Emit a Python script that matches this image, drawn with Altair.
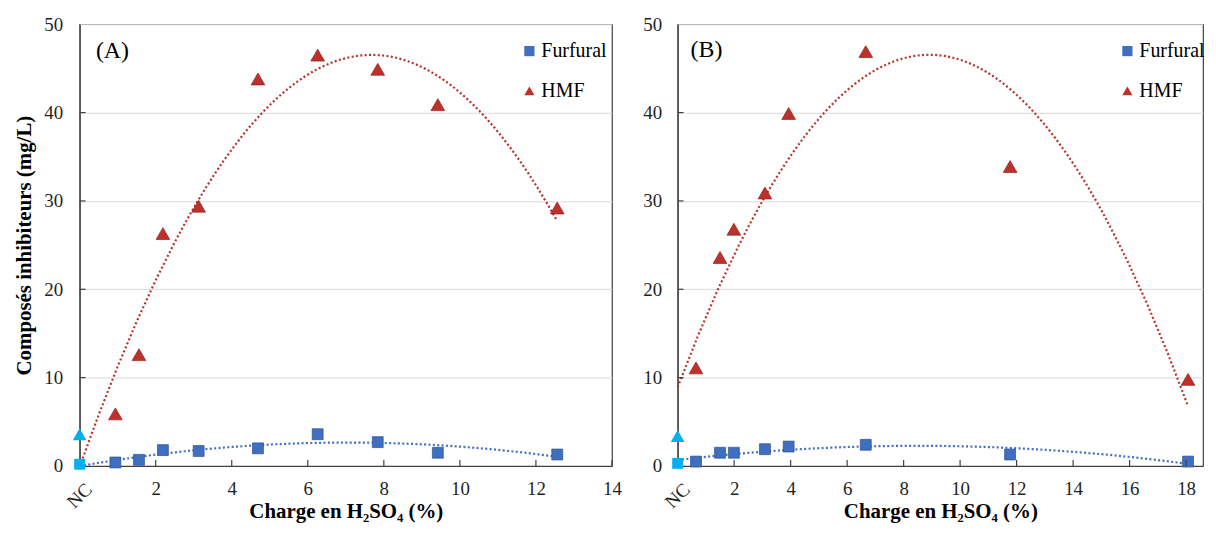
import altair as alt
import pandas as pd

# ---------------- data ----------------
series_names = ["Furfural", "HMF"]
series_colors = ["#3F6FC0", "#C0302A"]
series_strokes = ["#2a4f8f", "#8f201c"]
series_shapes = ["square", "triangle-up"]
series_sizes = [120, 190]
trend_colors = ["#3F6FC0", "#B8312C"]
nc_color = "#00B0F0"

# Panel (A)
a_x = [0, 0.94, 1.56, 2.19, 3.13, 4.69, 6.26, 7.84, 9.42, 12.56]
a_furfural = [0.2, 0.4, 0.7, 1.8, 1.7, 2.0, 3.6, 2.7, 1.5, 1.3]
a_hmf = [3.6, 5.9, 12.6, 26.3, 29.4, 43.8, 46.5, 44.9, 40.9, 29.2]
a_xticks = [2, 4, 6, 8, 10, 12, 14]

# Panel (B)
b_x = [0, 0.65, 1.50, 1.99, 3.09, 3.93, 6.66, 11.77, 18.07]
b_furfural = [0.3, 0.5, 1.5, 1.5, 1.9, 2.2, 2.4, 1.3, 0.5]
b_hmf = [3.4, 11.1, 23.6, 26.8, 30.9, 39.9, 46.9, 33.9, 9.8]
b_xticks = [2, 4, 6, 8, 10, 12, 14, 16, 18]

y_ticks = [0, 10, 20, 30, 40, 50]
nc_label = "NC"
x_title = "Charge en H₂SO₄ (%)"
y_title = "Composés inhibiteurs (mg/L)"

SERIF = "Liberation Serif"
H = 444


def panel(xs, furf, hmf, x_max, width, xticks, tag, tag_x, tag_y, show_ytitle, y_lab_pad):
    n = len(xs)
    df = pd.DataFrame({
        "x": list(xs) * 2,
        "y": list(furf) + list(hmf),
        "series": [series_names[0]] * n + [series_names[1]] * n,
    })
    base = alt.Chart(df)
    xscale = alt.Scale(domain=[0, x_max], nice=False, zero=False)
    yscale = alt.Scale(domain=[0, 50], nice=False)
    x_axis = alt.Axis(values=xticks, grid=False, ticks=False, tickSize=0,
                      labelFlush=False, labelPadding=14, labelFontSize=19,
                      labelFont=SERIF, labelColor="#1f1f1f",
                      title=x_title, titleFont=SERIF, titleFontSize=21,
                      titleFontWeight="bold", titleColor="#000000", titlePadding=2)
    y_axis = alt.Axis(values=y_ticks, grid=True, ticks=False, tickSize=0,
                      labelPadding=y_lab_pad, labelFontSize=19, labelFont=SERIF,
                      labelColor="#1f1f1f",
                      title=y_title if show_ytitle else None,
                      titleFont=SERIF, titleFontSize=21, titleFontWeight="bold",
                      titleColor="#000000", titlePadding=9)
    x_enc = alt.X("x:Q", scale=xscale, axis=x_axis)
    y_enc = alt.Y("y:Q", scale=yscale, axis=y_axis)

    legend = alt.Legend(orient="none", legendX=442, legendY=17, title=None,
                        labelFont=SERIF, labelFontSize=20, labelColor="#000000",
                        symbolSize=105, rowPadding=20, padding=0, labelOffset=2,
                        symbolStrokeWidth=0)
    color_scale = alt.Scale(domain=series_names, range=series_colors)
    shape_scale = alt.Scale(domain=series_names, range=series_shapes)

    layers = []
    # polynomial trend lines (order 2), computed by Vega
    for name, col in zip(series_names, trend_colors):
        layers.append(
            base.transform_filter(alt.datum.series == name)
            .transform_regression("x", "y", method="poly", order=2)
            .mark_line(color=col, strokeDash=[2, 2.4], strokeWidth=2.2)
            .encode(x=x_enc, y=y_enc)
        )
    # main points, one layer per series (legend merged)
    for name, stk, sz in zip(series_names, series_strokes, series_sizes):
        layers.append(
            base.transform_filter((alt.datum.x > 0) & (alt.datum.series == name))
            .mark_point(filled=True, opacity=1, size=sz, stroke=stk, strokeWidth=0.7)
            .encode(
                x=x_enc, y=y_enc,
                color=alt.Color("series:N", scale=color_scale, legend=legend),
                shape=alt.Shape("series:N", scale=shape_scale, legend=legend),
            )
        )
    # NC points (cyan)
    for name, shp, sz in zip(series_names, series_shapes, series_sizes):
        layers.append(
            base.transform_filter((alt.datum.x == 0) & (alt.datum.series == name))
            .mark_point(filled=True, opacity=1, size=sz, shape=shp, color=nc_color)
            .encode(x=x_enc, y=y_enc)
        )
    # inward x ticks
    layers.append(
        alt.Chart(pd.DataFrame({"x": xticks}))
        .mark_rule(color="#404040", strokeWidth=1.2)
        .encode(x=x_enc, y=alt.value(H), y2=alt.value(H - 6))
    )
    # inward y ticks
    layers.append(
        alt.Chart(pd.DataFrame({"y": y_ticks[1:-1]}))
        .mark_rule(color="#404040", strokeWidth=1.2)
        .encode(y=y_enc, x=alt.value(0), x2=alt.value(6))
    )
    # NC tick label (rotated)
    layers.append(
        alt.Chart(pd.DataFrame({"x": [0], "lab": [nc_label]}))
        .mark_text(angle=315, font=SERIF, fontSize=19, color="#1f1f1f",
                   align="center", baseline="middle")
        .encode(x=x_enc, y=alt.value(H + 30), text="lab:N")
    )
    # panel tag
    layers.append(
        alt.Chart(pd.DataFrame({"t": [tag]}))
        .mark_text(font=SERIF, fontSize=24, color="#000000",
                   align="center", baseline="middle")
        .encode(text="t:N", x=alt.value(tag_x), y=alt.value(tag_y))
    )
    return alt.layer(*layers).properties(width=width, height=H)


pa = panel(a_x, a_furfural, a_hmf, 14, 535, a_xticks, "(A)", 33, 27, True, 17)
pb = panel(b_x, b_furfural, b_hmf, 18.6, 528, b_xticks, "(B)", 29, 26, False, 16)

chart = (
    alt.hconcat(pa, pb, spacing=19)
    .resolve_scale(color="independent", shape="independent", x="independent", y="independent")
    .resolve_legend(color="independent", shape="independent")
    .properties(padding={"left": 5, "top": 5, "right": 2, "bottom": 2})
    .configure(background="white", font=SERIF)
    .configure_view(stroke="#404040", strokeWidth=1.2)
    .configure_axis(domainColor="#404040", domainWidth=1.2, gridColor="#D9D9D9", gridWidth=1,
                    labelFont=SERIF, titleFont=SERIF)
    .configure_legend(labelFont=SERIF)
    .configure_text(font=SERIF)
)

chart.save("out.html", embed_options={"renderer": "svg", "actions": False})
